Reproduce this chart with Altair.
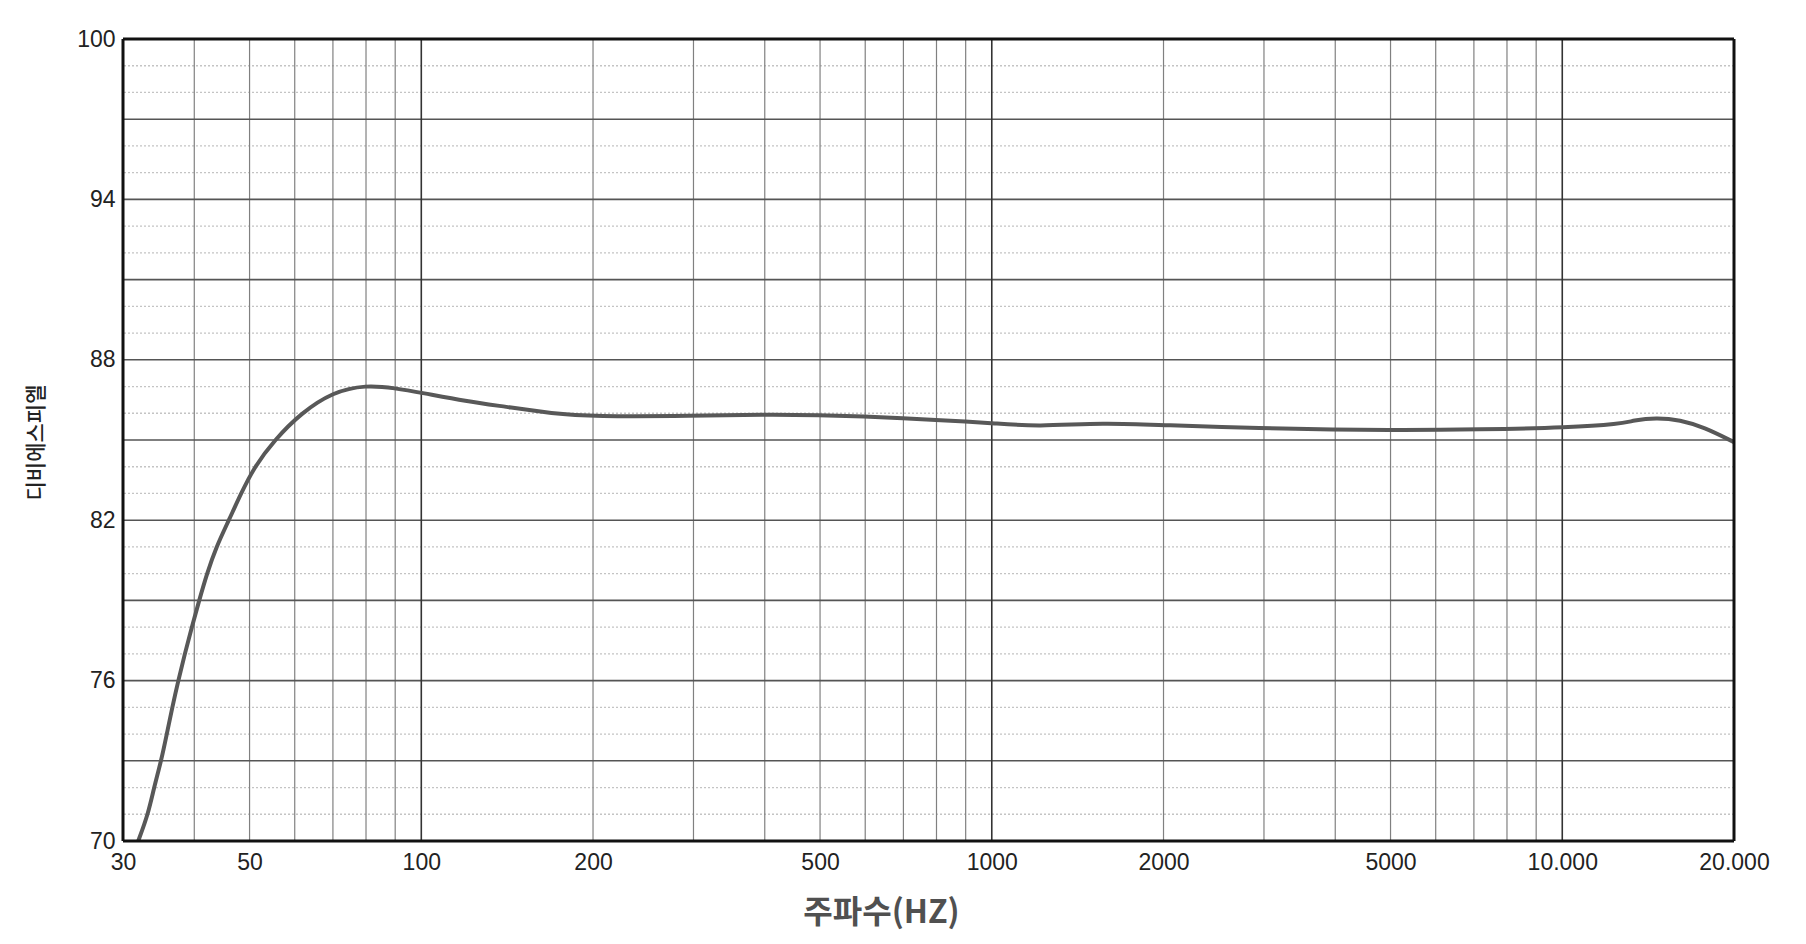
import altair as alt
import pandas as pd

# Frequency response curve (Hz, dB SPL)
freq_hz = [31.9, 33.2, 34.0, 35.0, 35.8, 36.6, 37.5, 38.5, 39.6, 40.8, 42.1, 43.7,
           46.0, 48.3, 51.0, 55.3, 61.5, 70, 80, 90, 100, 120, 140, 170, 200, 300,
           400, 500, 600, 700, 800, 900, 1000, 1200, 1575, 2000, 3000, 4000, 5000,
           6000, 8000, 10000, 12700, 13300, 14600, 16100, 17700, 20000]
spl_db = [70, 71, 72, 73, 74, 75, 76, 77, 78, 79, 80, 81,
          82, 83, 84, 85, 86, 86.8, 87.06, 86.94, 86.77, 86.45, 86.25, 85.98, 85.88, 85.9,
          85.96, 85.93, 85.88, 85.81, 85.75, 85.69, 85.63, 85.5, 85.65, 85.55, 85.44, 85.38, 85.37,
          85.38, 85.41, 85.46, 85.6, 85.73, 85.84, 85.75, 85.48, 84.92]

# Grid positions
minor_db = [71, 72, 74, 75, 77, 78, 80, 81, 83, 84, 86, 87, 89, 90, 92, 93, 95, 96, 98, 99]
major_db = [73, 76, 79, 82, 85, 88, 91, 94, 97]
minor_hz = [40, 50, 60, 70, 80, 90, 200, 300, 400, 500, 600, 700, 800, 900,
            2000, 3000, 4000, 5000, 6000, 7000, 8000, 9000]
decade_hz = [100, 1000, 10000]
frame_db = [70, 100]
frame_hz = [30, 20000]

# Tick labels
x_ticks = [30, 50, 100, 200, 500, 1000, 2000, 5000, 10000, 20000]
y_ticks = [70, 76, 82, 88, 94, 100]

x_title = "주파수(HZ)"
y_title = "디비에스피엘"

xs = alt.Scale(type="log", domain=[30, 20000], nice=False)
ys = alt.Scale(domain=[70, 100], nice=False, zero=False)

x_axis = alt.Axis(
    values=x_ticks,
    labelExpr="datum.value >= 10000 ? replace(format(datum.value, ','), ',', '.') : format(datum.value, 'd')",
    grid=False, ticks=False, domain=False,
    labelFont="Liberation Sans", labelFontSize=23, labelColor="#222222",
    labelPadding=10, labelFlush=False, labelOverlap=False,
    title=x_title, titleFont="Noto Sans CJK KR", titleFontSize=32,
    titleFontWeight="bold", titleColor="#505050",
    titleX=758, titleY=71, titleAlign="center", titleBaseline="middle",
)
y_axis = alt.Axis(
    values=y_ticks, grid=False, ticks=False, domain=False,
    labelFont="Liberation Sans", labelFontSize=23, labelColor="#222222",
    labelPadding=8, labelFlush=False, labelOverlap=False,
    title=y_title, titleFont="Noto Sans CJK KR", titleFontSize=21,
    titleFontWeight=500, titleColor="#222222",
    titleX=-87, titleY=403, titleAngle=270, titleAlign="center", titleBaseline="middle",
)

curve = pd.DataFrame({"hz": freq_hz, "db": spl_db})

minor_h = alt.Chart(pd.DataFrame({"db": minor_db})).mark_rule(
    color="#c4c4c4", strokeWidth=1.3, strokeDash=[2, 2]
).encode(y=alt.Y("db:Q", scale=ys, axis=y_axis))

minor_v = alt.Chart(pd.DataFrame({"hz": minor_hz})).mark_rule(
    color="#808080", strokeWidth=1.2
).encode(x=alt.X("hz:Q", scale=xs, axis=x_axis))

major_h = alt.Chart(pd.DataFrame({"db": major_db})).mark_rule(
    color="#555555", strokeWidth=1.6
).encode(y=alt.Y("db:Q", scale=ys, axis=y_axis))

decade_v = alt.Chart(pd.DataFrame({"hz": decade_hz})).mark_rule(
    color="#333333", strokeWidth=1.6
).encode(x=alt.X("hz:Q", scale=xs, axis=x_axis))

line = alt.Chart(curve).mark_line(
    color="#585858", strokeWidth=4, interpolate="basis"
).encode(
    x=alt.X("hz:Q", scale=xs, axis=x_axis),
    y=alt.Y("db:Q", scale=ys, axis=y_axis),
)

frame_h = alt.Chart(pd.DataFrame({"db": frame_db})).mark_rule(
    color="#111111", strokeWidth=3
).encode(y=alt.Y("db:Q", scale=ys, axis=y_axis))

frame_v = alt.Chart(pd.DataFrame({"hz": frame_hz})).mark_rule(
    color="#111111", strokeWidth=3
).encode(x=alt.X("hz:Q", scale=xs, axis=x_axis))

chart = alt.layer(
    minor_h, minor_v, major_h, decade_v, line, frame_h, frame_v
).properties(
    width=1611, height=802,
    autosize=alt.AutoSizeParams(type="none"),
    padding={"left": 115, "top": 31, "right": 60, "bottom": 98},
    background="white",
).configure_view(stroke=None)

chart.save("out.html", embed_options={"renderer": "svg", "actions": False})
